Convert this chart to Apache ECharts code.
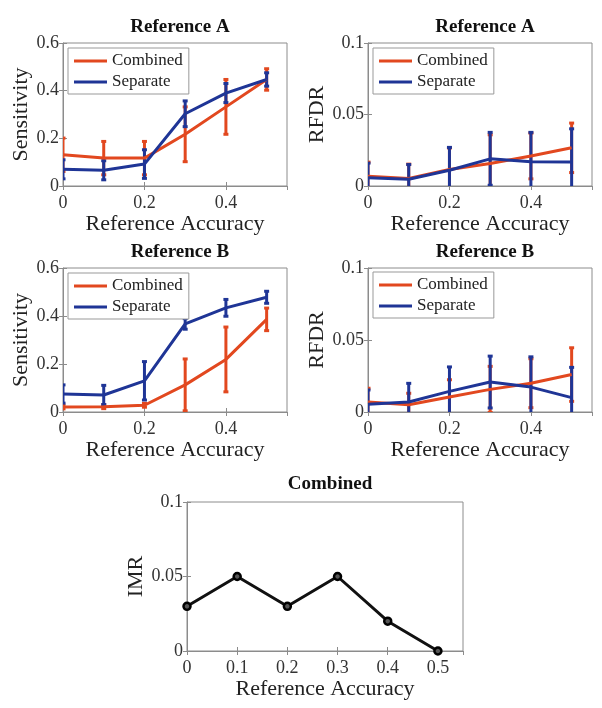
<!DOCTYPE html>
<html>
<head>
<meta charset="utf-8">
<script src="https://cdn.jsdelivr.net/npm/echarts@6/dist/echarts.min.js"></script>
<style>
html,body{margin:0;padding:0;background:#fff;}
#chart{width:602px;height:708px;}
</style>
</head>
<body>
<div id="chart"></div>
<script>
// ---------- data ----------
const xVals = [0, 0.1, 0.2, 0.3, 0.4, 0.5];

const sensA_comb    = [0.131, 0.117, 0.117, 0.217, 0.332, 0.447];
const sensA_combErr = [0.070, 0.070, 0.070, 0.115, 0.115, 0.045];
const sensA_sep     = [0.070, 0.066, 0.092, 0.303, 0.390, 0.447];
const sensA_sepErr  = [0.040, 0.040, 0.060, 0.054, 0.040, 0.028];

const rfdrA_comb    = [0.0069, 0.0053, 0.0116, 0.0158, 0.0210, 0.0267];
const rfdrA_combErr = [0.0098, 0.0100, 0.0150, 0.0200, 0.0160, 0.0173];
const rfdrA_sep     = [0.0058, 0.0047, 0.0110, 0.0190, 0.0170, 0.0167];
const rfdrA_sepErr  = [0.0102, 0.0103, 0.0160, 0.0185, 0.0205, 0.0233];

const sensB_comb    = [0.021, 0.022, 0.028, 0.113, 0.219, 0.386];
const sensB_combErr = [0.008, 0.008, 0.008, 0.108, 0.135, 0.047];
const sensB_sep     = [0.075, 0.071, 0.130, 0.367, 0.434, 0.478];
const sensB_sepErr  = [0.038, 0.040, 0.080, 0.022, 0.035, 0.025];

const rfdrB_comb    = [0.0069, 0.0050, 0.0104, 0.0157, 0.0200, 0.0260];
const rfdrB_combErr = [0.0096, 0.0080, 0.0120, 0.0160, 0.0170, 0.0186];
const rfdrB_sep     = [0.0053, 0.0069, 0.0143, 0.0208, 0.0173, 0.0100];
const rfdrB_sepErr  = [0.0100, 0.0130, 0.0170, 0.0180, 0.0210, 0.0210];

const imrVals = [0.03, 0.05, 0.03, 0.05, 0.02, 0];

const titles = ['Reference A', 'Reference A', 'Reference B', 'Reference B', 'Combined'];
const yNames = ['Sensitivity', 'RFDR', 'Sensitivity', 'RFDR', 'IMR'];
const xName = 'Reference Accuracy';
const seriesNames = ['Combined', 'Separate'];

// ---------- style / layout ----------
const RED = '#E2481F', BLUE = '#1F3596';
const FONT = '"Liberation Serif", "DejaVu Serif", serif';
const AXIS_C = '#8c8c8c';

const grids = [
  {left: 63,  top: 43,  width: 224, height: 143},
  {left: 368, top: 43,  width: 224, height: 143},
  {left: 63,  top: 268, width: 224, height: 144},
  {left: 368, top: 268, width: 224, height: 144},
  {left: 187, top: 502, width: 276, height: 149}
];
const yCfg = [
  {max: 0.6, interval: 0.2, gap: 31},
  {max: 0.1, interval: 0.05, gap: 34},
  {max: 0.6, interval: 0.2, gap: 31},
  {max: 0.1, interval: 0.05, gap: 34},
  {max: 0.1, interval: 0.05, gap: 38}
];
const xCfg = [
  {interval: 0.2}, {interval: 0.2}, {interval: 0.2}, {interval: 0.2}, {interval: 0.1}
];
const titlePos = [
  {x: 175, y: 13}, {x: 480, y: 13}, {x: 175, y: 238}, {x: 480, y: 238}, {x: 325, y: 470}
];
const legendPos = [
  {left: 68, top: 48}, {left: 373, top: 48}, {left: 68, top: 273}, {left: 373, top: 272}
];

const xAxes = [], yAxes = [], series = [], titleArr = [], legends = [];

grids.forEach((g, i) => {
  g.show = true; g.borderColor = AXIS_C; g.borderWidth = 1; g.backgroundColor = '#fff';
  xAxes.push({
    type: 'value', gridIndex: i, min: 0, max: 0.55, interval: xCfg[i].interval,
    position: 'bottom',
    name: xName, nameLocation: 'middle', nameGap: 23,
    nameTextStyle: {fontFamily: FONT, fontSize: 22, color: '#222'},
    axisLine: {show: true, lineStyle: {color: AXIS_C}},
    axisTick: {show: true, inside: true, length: 4, lineStyle: {color: AXIS_C}},
    axisLabel: {fontFamily: FONT, fontSize: 18, color: '#333', margin: 8, showMaxLabel: false,
      formatter: v => String(+v.toFixed(2))},
    splitLine: {show: false}
  });
  xAxes.push({
    type: 'value', gridIndex: i, min: 0, max: 0.55, interval: xCfg[i].interval,
    position: 'top',
    axisLine: {show: false},
    axisTick: {show: true, inside: true, length: 4, lineStyle: {color: AXIS_C}},
    axisLabel: {show: false}, splitLine: {show: false}
  });
  yAxes.push({
    type: 'value', gridIndex: i, min: 0, max: yCfg[i].max, interval: yCfg[i].interval,
    position: 'left',
    name: yNames[i], nameLocation: 'middle', nameGap: yCfg[i].gap,
    nameTextStyle: {fontFamily: FONT, fontSize: 22, color: '#222'},
    axisLine: {show: true, lineStyle: {color: AXIS_C}},
    axisTick: {show: true, inside: true, length: 4, lineStyle: {color: AXIS_C}},
    axisLabel: {fontFamily: FONT, fontSize: 18, color: '#333', margin: 4,
      formatter: v => String(+v.toFixed(3))},
    splitLine: {show: false}
  });
  yAxes.push({
    type: 'value', gridIndex: i, min: 0, max: yCfg[i].max, interval: yCfg[i].interval,
    position: 'right',
    axisLine: {show: false},
    axisTick: {show: true, inside: true, length: 4, lineStyle: {color: AXIS_C}},
    axisLabel: {show: false}, splitLine: {show: false}
  });
  titleArr.push({
    text: titles[i], left: titlePos[i].x, top: titlePos[i].y, textAlign: 'center',
    textStyle: {fontFamily: FONT, fontSize: 19, fontWeight: 'bold', color: '#111'}
  });
});

function errSeries(gi, name, vals, errs, color) {
  return {
    type: 'custom', name: name + ' error', coordinateSystem: 'cartesian2d',
    xAxisIndex: gi * 2, yAxisIndex: gi * 2, clip: true, z: 3,
    data: xVals.map((x, k) => [x, vals[k], errs[k]]),
    encode: {x: 0, y: 1},
    renderItem: function (params, api) {
      const x = api.value(0), y = api.value(1), e = api.value(2);
      const top = api.coord([x, y + e]);
      const bot = api.coord([x, y - e]);
      const cw = 2.5;
      const st = {stroke: color, lineWidth: 3};
      return {
        type: 'group',
        children: [
          {type: 'line', shape: {x1: top[0], y1: top[1], x2: bot[0], y2: bot[1]}, style: st},
          {type: 'line', shape: {x1: top[0] - cw, y1: top[1], x2: top[0] + cw, y2: top[1]}, style: st},
          {type: 'line', shape: {x1: bot[0] - cw, y1: bot[1], x2: bot[0] + cw, y2: bot[1]}, style: st}
        ]
      };
    }
  };
}
function lineSeries(gi, name, vals, color) {
  return {
    type: 'line', name: name, xAxisIndex: gi * 2, yAxisIndex: gi * 2,
    data: xVals.map((x, k) => [x, vals[k]]),
    showSymbol: false, symbol: 'none', z: 4, clip: true,
    lineStyle: {color: color, width: 3},
    itemStyle: {color: color}
  };
}

const panels = [
  [sensA_comb, sensA_combErr, sensA_sep, sensA_sepErr],
  [rfdrA_comb, rfdrA_combErr, rfdrA_sep, rfdrA_sepErr],
  [sensB_comb, sensB_combErr, sensB_sep, sensB_sepErr],
  [rfdrB_comb, rfdrB_combErr, rfdrB_sep, rfdrB_sepErr]
];
panels.forEach((p, gi) => {
  series.push(lineSeries(gi, seriesNames[0], p[0], RED));
  series.push(errSeries(gi, seriesNames[0], p[0], p[1], RED));
  series.push(lineSeries(gi, seriesNames[1], p[2], BLUE));
  series.push(errSeries(gi, seriesNames[1], p[2], p[3], BLUE));
  legends.push({
    left: legendPos[gi].left, top: legendPos[gi].top, orient: 'vertical',
    data: seriesNames, icon: 'rect', itemWidth: 33, itemHeight: 3, itemGap: 3,
    padding: [4, 6, 3, 6], borderColor: '#999', borderWidth: 1, backgroundColor: '#fff',
    selectedMode: false,
    textStyle: {fontFamily: FONT, fontSize: 17, color: '#222', lineHeight: 18}
  });
});
series.push({
  type: 'line', name: 'IMR', xAxisIndex: 8, yAxisIndex: 8,
  data: xVals.map((x, k) => [x, imrVals[k]]),
  symbol: 'circle', symbolSize: 7, clip: false, z: 4,
  lineStyle: {color: '#111', width: 3},
  itemStyle: {color: '#555', borderColor: '#000', borderWidth: 2.5}
});

const chart = echarts.init(document.getElementById('chart'), null, {renderer: 'canvas'});
chart.setOption({
  animation: false,
  backgroundColor: '#fff',
  title: titleArr,
  legend: legends,
  grid: grids,
  xAxis: xAxes,
  yAxis: yAxes,
  series: series
});
</script>
</body>
</html>
